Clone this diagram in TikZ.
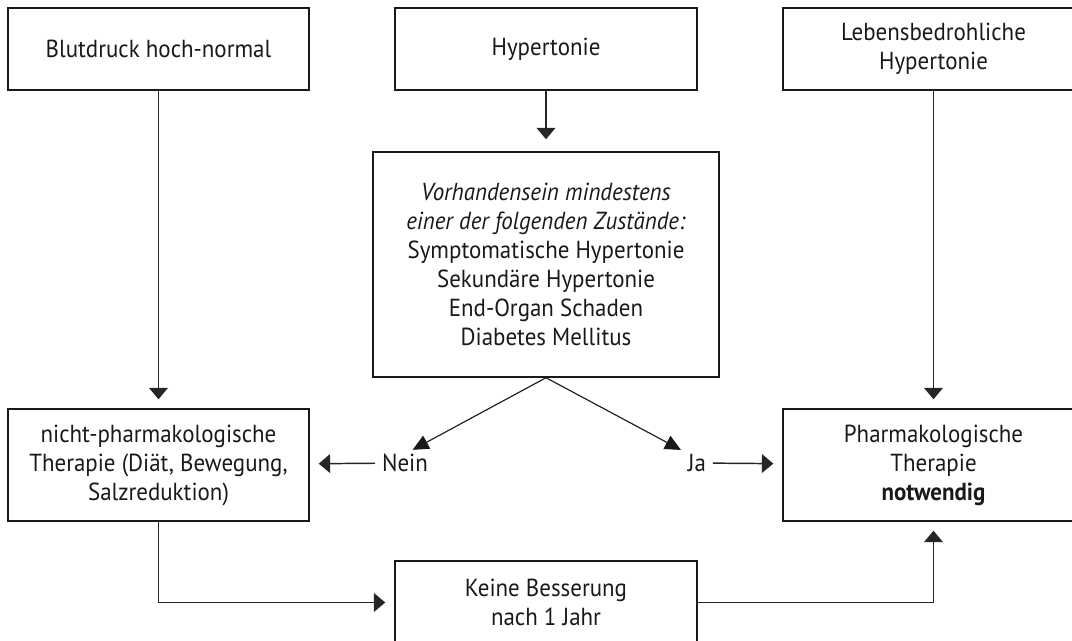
\documentclass[tikz,border=0pt]{standalone}
\usepackage{fontspec}
\setmainfont{PT Sans}[FakeStretch=0.93]
\usetikzlibrary{arrows.meta,positioning}
\tikzset{
  bx/.style={draw=black!90,line width=1.1pt,inner sep=0pt,align=center,
    minimum width=225.75pt,minimum height=61.5pt,text=black!90},
  ar/.style={-{Triangle[length=8.5pt,width=14pt]},line width=1.1pt,draw=black!85,
    shorten >=6.75pt},
  dg/.style={-{Triangle[length=12pt,width=11pt]},line width=0.85pt,draw=black!90},
  lb/.style={inner xsep=5pt,inner ysep=3pt,text=black!90},
}

\begin{document}
\begin{tikzpicture}[x=0.75pt,y=-0.75pt,font=\fontsize{18.5}{21.75}\selectfont]
  \useasboundingbox (0,0) rectangle (1072,641);
  \clip (0,0) rectangle (1072,641);

  \node[bx] (hn) at (158.5,49) {Blutdruck hoch-normal};
  \node[bx,minimum width=226.5pt] (ht) at (546,49) {Hypertonie};
  \node[bx] (lb) at (933.5,49) {Lebensbedrohliche\\Hypertonie};
  \node[bx,minimum width=259.5pt,minimum height=168.75pt] (vz) at (546,264.5)
    {\textit{Vorhandensein mindestens}\\\textit{einer der folgenden Zustände:}\\
     Symptomatische Hypertonie\\Sekundäre Hypertonie\\End-Organ Schaden\\Diabetes Mellitus};
  \node[bx,minimum height=84pt] (np) at (158.5,465)
    {nicht-pharmakologische\\Therapie (Diät, Bewegung,\\Salzreduktion)};
  \node[bx,minimum height=84pt] (ph) at (933.5,465)
    {Pharmakologische\\Therapie\\\textbf{notwendig}};
  \node[bx,minimum width=226.5pt,minimum height=62.25pt] (kb) at (546,602.5)
    {Keine Besserung\\nach 1 Jahr};

  \node[lb] (nein) at (405,463) {Nein};
  \node[lb] (ja) at (697,463) {Ja};

  \draw[ar] (hn) -- (np);
  \draw[ar,shorten >=9pt] (ht) -- (vz);
  \draw[ar] (lb) -- (ph);
  \draw[dg] (vz.south) -- (nein.60);
  \draw[dg] (vz.south) -- (ja.north west);
  \draw[ar] (nein) -- (np);
  \draw[ar] (ja) -- (ph);
  \draw[ar] (np.south) |- (kb.west);
  \draw[ar] (kb.east) -| (ph.south);
\end{tikzpicture}
\end{document}
